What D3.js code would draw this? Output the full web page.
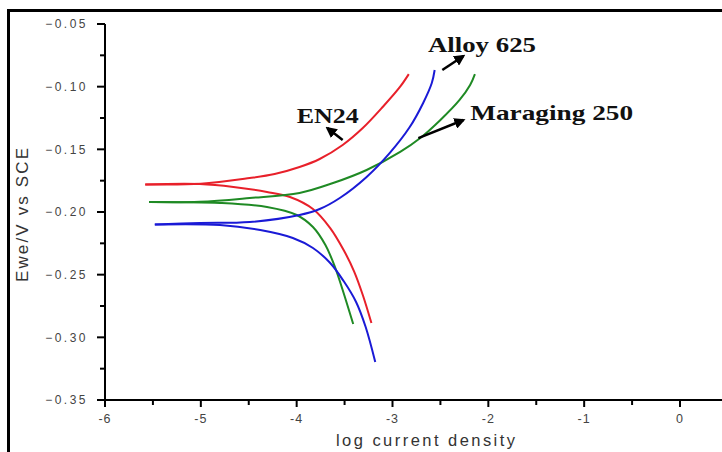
<!DOCTYPE html>
<html>
<head>
<meta charset="utf-8">
<script src="https://cdn.jsdelivr.net/npm/d3@7"></script>
<style>
  body { margin: 0; background: #fff; }
  svg { display: block; }
</style>
</head>
<body>
<div id="chart"></div>
<script>
// Tafel curves: E (V vs SCE) vs log current density
const xTicks = [-6, -5, -4, -3, -2, -1, 0];
const yTicks = [-0.05, -0.10, -0.15, -0.20, -0.25, -0.30, -0.35];

// [log i, E]
const en24Anodic = [[-5.58,-0.178],[-5.0,-0.1775],[-4.49,-0.1729],[-4.23,-0.1697],[-3.97,-0.1641],[-3.76,-0.1577],[-3.52,-0.1465],[-3.31,-0.133],[-3.10,-0.116],[-2.92,-0.100],[-2.83,-0.090]];
const en24Cathodic = [[-5.58,-0.178],[-5.01,-0.1777],[-4.66,-0.180],[-4.31,-0.184],[-4.07,-0.188],[-3.83,-0.1976],[-3.65,-0.2128],[-3.51,-0.2303],[-3.40,-0.2475],[-3.31,-0.2662],[-3.22,-0.2886]];
const maragingAnodic = [[-5.54,-0.192],[-5.01,-0.1918],[-4.49,-0.1888],[-3.97,-0.1848],[-3.62,-0.1769],[-3.27,-0.1665],[-2.92,-0.1521],[-2.71,-0.141],[-2.50,-0.1266],[-2.30,-0.1106],[-2.19,-0.0987],[-2.14,-0.090]];
const maragingCathodic = [[-5.54,-0.192],[-4.80,-0.1928],[-4.31,-0.196],[-4.00,-0.2024],[-3.83,-0.212],[-3.70,-0.2264],[-3.60,-0.2439],[-3.52,-0.2622],[-3.41,-0.2894]];
const alloyAnodic = [[-5.48,-0.210],[-5.01,-0.2088],[-4.49,-0.208],[-3.97,-0.2024],[-3.76,-0.1976],[-3.55,-0.1888],[-3.27,-0.172],[-3.03,-0.153],[-2.82,-0.1322],[-2.68,-0.113],[-2.59,-0.0971],[-2.56,-0.0867]];
const alloyCathodic = [[-5.48,-0.210],[-4.80,-0.2104],[-4.38,-0.2144],[-4.04,-0.2207],[-3.83,-0.2287],[-3.65,-0.2407],[-3.51,-0.2551],[-3.38,-0.2718],[-3.28,-0.2918],[-3.18,-0.3197]];

const series = [
  { name: 'EN24', color: '#e8202a', branches: [en24Anodic, en24Cathodic] },
  { name: 'Maraging 250', color: '#1f8a24', branches: [maragingAnodic, maragingCathodic] },
  { name: 'Alloy 625', color: '#1a1ad6', branches: [alloyAnodic, alloyCathodic] }
];

// label text, start of text baseline (data), arrow from -> to (data)
const notes = [
  { text: 'Alloy 625', at: [-2.63, -0.0721], len: 108, from: [-2.48, -0.0867], to: [-2.26, -0.0755] },
  { text: 'EN24', at: [-4.0, -0.129], len: 62, from: [-3.52, -0.1426], to: [-3.68, -0.1330] },
  { text: 'Maraging 250', at: [-2.19, -0.1266], len: 163, from: [-2.73, -0.1410], to: [-2.26, -0.1266] }
];

const W = 722, H = 452;
const x = d3.scaleLinear().domain([-6, 0]).range([105, 680]);
const y = d3.scaleLinear().domain([-0.35, -0.05]).range([400, 24]);

const svg = d3.select('#chart').append('svg').attr('width', W).attr('height', H);

// outer frame (left and top only)
svg.append('path')
  .attr('d', `M8.5,${H} L8.5,10.5 L${W},10.5`)
  .attr('fill', 'none').attr('stroke', '#000').attr('stroke-width', 3);

svg.append('defs').append('marker')
  .attr('id', 'arr').attr('viewBox', '0 0 10 10')
  .attr('refX', 8).attr('refY', 5)
  .attr('markerWidth', 4.5).attr('markerHeight', 4.5)
  .attr('orient', 'auto')
  .append('path').attr('d', 'M0,0 L10,5 L0,10 z').attr('fill', '#000');

// axes
const minorX = d3.range(-5.5, 0.5, 1);
const minorY = d3.range(-0.325, -0.05, 0.05);

const gx = svg.append('g').attr('transform', 'translate(0,400)');
gx.append('line').attr('x1', 104).attr('x2', W).attr('stroke', '#000').attr('stroke-width', 2);
gx.selectAll('.maj').data(xTicks).join('line')
  .attr('x1', d => x(d)).attr('x2', d => x(d)).attr('y1', 0).attr('y2', 7)
  .attr('stroke', '#000').attr('stroke-width', 2);
gx.selectAll('.min').data(minorX).join('line')
  .attr('x1', d => x(d)).attr('x2', d => x(d)).attr('y1', 0).attr('y2', 5)
  .attr('stroke', '#000').attr('stroke-width', 2);
gx.selectAll('text').data(xTicks).join('text')
  .attr('x', d => x(d)).attr('y', 23)
  .attr('text-anchor', 'middle')
  .attr('font-family', 'Liberation Sans, Arial, sans-serif')
  .attr('font-size', 12.5).attr('letter-spacing', 1).attr('fill', '#444')
  .text(d => d);

const gy = svg.append('g').attr('transform', 'translate(105,0)');
gy.append('line').attr('y1', 24).attr('y2', 401).attr('stroke', '#000').attr('stroke-width', 2);
gy.selectAll('.maj').data(yTicks).join('line')
  .attr('y1', d => y(d)).attr('y2', d => y(d)).attr('x1', 0).attr('x2', -8)
  .attr('stroke', '#000').attr('stroke-width', 2);
gy.selectAll('.min').data(minorY).join('line')
  .attr('y1', d => y(d)).attr('y2', d => y(d)).attr('x1', 0).attr('x2', -5)
  .attr('stroke', '#000').attr('stroke-width', 2);
gy.selectAll('text').data(yTicks).join('text')
  .attr('x', -17).attr('y', d => y(d)).attr('dy', '0.35em')
  .attr('text-anchor', 'end')
  .attr('font-family', 'Liberation Sans, Arial, sans-serif')
  .attr('font-size', 12).attr('letter-spacing', 2.5).attr('fill', '#444')
  .text(d => d3.format('.2f')(d));

// axis titles
svg.append('text')
  .attr('x', 336).attr('y', 446)
  .attr('font-family', 'Liberation Sans, Arial, sans-serif')
  .attr('font-size', 16.5).attr('fill', '#333')
  .attr('textLength', 179).attr('lengthAdjust', 'spacing')
  .text('log current density');
svg.append('text')
  .attr('transform', 'translate(28,282) rotate(-90)')
  .attr('font-family', 'Liberation Sans, Arial, sans-serif')
  .attr('font-size', 17).attr('fill', '#333')
  .attr('textLength', 134).attr('lengthAdjust', 'spacing')
  .text('Ewe/V vs SCE');

// curves
const line = d3.line().x(d => x(d[0])).y(d => y(d[1])).curve(d3.curveCatmullRom.alpha(0.5));
series.forEach(s => {
  svg.append('g').selectAll('path').data(s.branches).join('path')
    .attr('d', line)
    .attr('fill', 'none').attr('stroke', s.color).attr('stroke-width', 2);
});

// annotations
notes.forEach(n => {
  svg.append('line')
    .attr('x1', x(n.from[0])).attr('y1', y(n.from[1]))
    .attr('x2', x(n.to[0])).attr('y2', y(n.to[1]))
    .attr('stroke', '#000').attr('stroke-width', 2.5)
    .attr('marker-end', 'url(#arr)');
  svg.append('text')
    .attr('x', x(n.at[0])).attr('y', y(n.at[1]))
    .attr('font-family', 'Liberation Serif, Times New Roman, serif')
    .attr('font-weight', 'bold').attr('font-size', 22)
    .attr('textLength', n.len).attr('lengthAdjust', 'spacingAndGlyphs')
    .attr('fill', '#111')
    .text(n.text);
});
</script>
</body>
</html>
